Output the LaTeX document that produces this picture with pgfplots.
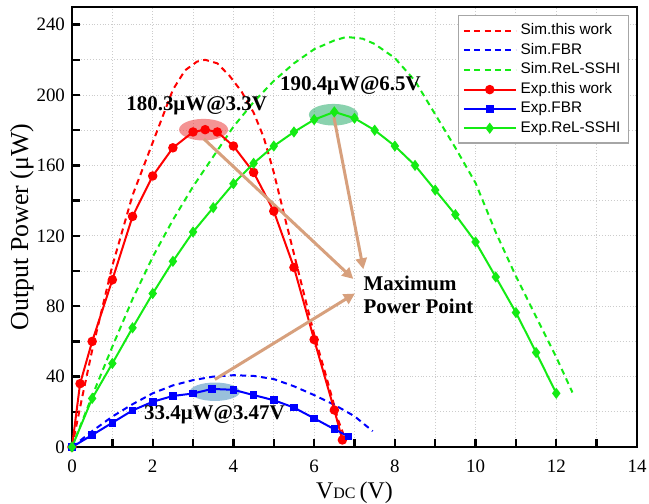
\documentclass[border=0pt]{standalone}
\usepackage{pgfplots}
\pgfplotsset{compat=1.18}
\usepackage{fontspec}
\setmainfont{Liberation Serif}
\newfontfamily\arial{Liberation Sans}
\usetikzlibrary{arrows.meta}

\definecolor{cRed}{RGB}{255,0,0}
\definecolor{cBlue}{RGB}{0,0,255}
\definecolor{cGreen}{RGB}{20,235,20}
\definecolor{arrowcol}{RGB}{215,160,125}
\definecolor{elRed}{RGB}{235,60,60}
\definecolor{elGreen}{RGB}{60,180,120}
\definecolor{elBlue}{RGB}{70,140,190}

\begin{document}
\begin{tikzpicture}
\begin{axis}[
    width=282.5bp, height=220bp, scale only axis,
    xmin=0, xmax=14, ymin=0, ymax=250,
    xtick={0,2,...,14}, ytick={0,40,...,240},
    minor x tick num=1, minor y tick num=1,
    tick pos=left, tick align=inside,
    major tick length=4bp, minor tick length=4bp,
    every tick/.style={black, line width=1.2bp},
    axis line style={line width=1.3bp},
    grid=both,
    grid style={densely dotted, gray!40, line width=0.5bp},
    minor grid style={densely dotted, gray!40, line width=0.5bp},
    /pgf/number format/assume math mode=true,
    tick label style={font=\fontsize{9.5}{11}\selectfont},
    xticklabel style={yshift=-3bp},
    xlabel={V{\fontsize{8}{9}\selectfont DC}\,(V)},
    ylabel={Output Power (μW)},
    xlabel style={font=\fontsize{12}{14}\selectfont, at={(axis description cs:0.5,0)}, anchor=north, yshift=-14bp},
    ylabel style={font=\fontsize{13}{15}\selectfont, at={(axis description cs:-0.0885,0.5)}, anchor=center},
    legend style={at={(0.986,0.982)}, anchor=north east, draw=gray!70, line width=0.6bp,
        font=\arial\fontsize{7.7}{9}\selectfont, row sep=-1.2bp, inner sep=2bp},
    legend cell align=left,
    legend image code/.code={\draw[mark repeat=2,mark phase=2] plot coordinates {(0bp,0bp) (13bp,0bp) (26bp,0bp)};},
    every axis plot/.append style={line width=1bp},
]

% highlight ellipses
\fill[elRed, opacity=0.55] (axis cs:3.26,180.3) ellipse [x radius=12.25bp, y radius=5.4bp];
\fill[elGreen, opacity=0.6] (axis cs:6.48,188.8) ellipse [x radius=12.3bp, y radius=5.4bp];
\fill[elBlue, opacity=0.55] (axis cs:3.54,31.4) ellipse [x radius=12.5bp, y radius=4.6bp];

% simulated
\addplot[cRed, dash pattern=on 3bp off 2.2bp, no marks] coordinates {
(0,0) (0.25,28) (0.5,55) (1,103) (1.5,143) (2,173) (2.5,203) (2.8,214) (3.1,219) (3.3,220)
(3.6,218) (3.9,211) (4.2,202) (4.5,190) (4.75,176) (5,156) (5.3,128) (5.65,96) (6,64)
(6.3,40) (6.6,15) (6.78,4)
};
\addlegendentry{Sim.this work}
\addplot[cBlue, dash pattern=on 3bp off 2.2bp, no marks] coordinates {
(0,0) (0.5,9) (1,17.3) (1.5,24.3) (2,30.5) (2.5,35) (3,38) (3.5,40) (4,40.8) (4.5,40.4)
(5,38.6) (5.5,34.5) (6,29.5) (6.5,24) (7,17.5) (7.45,9)
};
\addlegendentry{Sim.FBR}
\addplot[cGreen, dash pattern=on 3bp off 2.2bp, no marks] coordinates {
(0,0) (0.5,29) (1,57) (1.5,84) (2,108) (2.5,129) (3,148) (3.5,165) (4,182) (4.5,196)
(5,208) (5.5,218) (6,226) (6.5,231) (6.8,233) (7.2,232) (7.5,229) (8,221) (8.5,208)
(9,189) (9.5,170) (10,150) (10.5,122) (11,97) (11.5,74) (12,51) (12.4,31)
};
\addlegendentry{Sim.ReL-SSHI}

% experimental
\addplot[cRed, mark=*, mark size=1.85bp] coordinates {
(0,0) (0.2,36) (0.5,60) (1,95) (1.5,131) (2,154) (2.5,170) (3,179) (3.3,180.3) (3.6,179)
(4,171) (4.5,156) (5,134) (5.5,102) (6,61) (6.5,21) (6.7,4)
};
\addlegendentry{Exp.this work}
\addplot[cBlue, mark=square*, mark size=1.4bp] coordinates {
(0,0) (0.5,6.8) (1,13.8) (1.5,20.8) (2,25.7) (2.5,29) (3,30.4) (3.47,33.0) (4,32.5)
(4.5,29.5) (5,26.6) (5.5,22.4) (6,16.3) (6.5,10.1) (6.85,6)
};
\addlegendentry{Exp.FBR}
\addplot[cGreen, mark=diamond*, mark size=2bp] coordinates {
(0,0) (0.5,27.6) (1,47.5) (1.5,67.7) (2,87.2) (2.5,105.5) (3,122.2) (3.5,136) (4,149.6)
(4.5,161.2) (5,171) (5.5,179) (6,186) (6.5,190.4) (7,186.8) (7.5,180) (8,171) (8.5,160)
(9,146) (9.5,132) (10,116.5) (10.5,96.6) (11,76.4) (11.5,53.7) (12,30.5)
};
\addlegendentry{Exp.ReL-SSHI}

% arrows to the label
\draw[arrowcol, line width=1.5bp, -{Triangle[length=5.5bp,width=5.5bp]}] (axis cs:3.27,175) -- (axis cs:6.97,95.5);
\draw[arrowcol, line width=1.5bp, -{Triangle[length=5.5bp,width=5.5bp]}] (axis cs:6.49,187.4) -- (axis cs:7.22,101);
\draw[arrowcol, line width=1.5bp, -{Triangle[length=5.5bp,width=5.5bp]}] (axis cs:3.54,38.4) -- (axis cs:7.01,87.2);

% annotations
\node[font=\bfseries\fontsize{10.5}{12}\selectfont] at (axis cs:3.09,193.8) {180.3μW@3.3V};
\node[font=\bfseries\fontsize{10.5}{12}\selectfont] at (axis cs:6.9,205) {190.4μW@6.5V};
\node[font=\bfseries\fontsize{10.5}{12}\selectfont] at (axis cs:3.53,18.2) {33.4μW@3.47V};
\node[font=\bfseries\fontsize{10.5}{11.5}\selectfont, align=left, anchor=west] at (axis cs:7.05,86.5) {Maximum\\Power Point};

\end{axis}
\pgfresetboundingbox
\useasboundingbox (-36bp,-28.5bp) rectangle (288.5bp,223.5bp);
\end{tikzpicture}
\end{document}
